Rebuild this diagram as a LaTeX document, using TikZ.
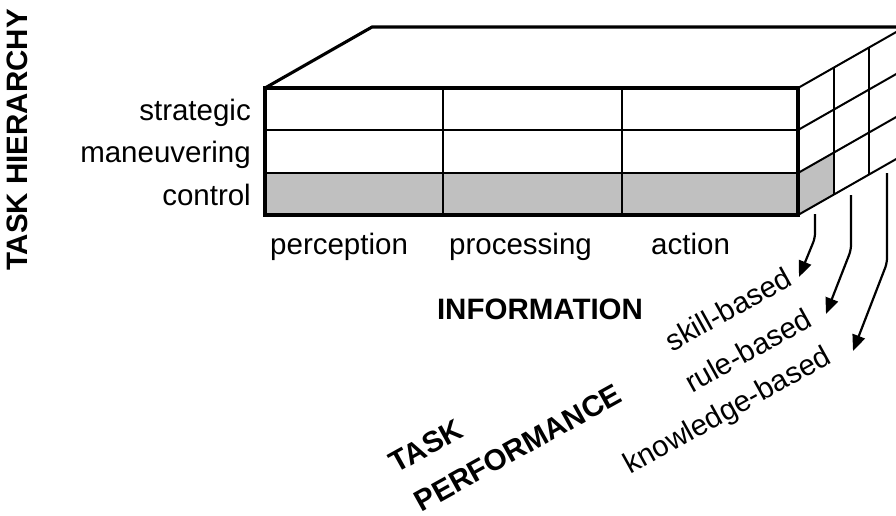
\documentclass[tikz,border=0pt]{standalone}
\usepackage{fontspec}
\setmainfont{Liberation Sans}
\usetikzlibrary{arrows.meta}
\definecolor{cellgray}{RGB}{192,192,192}
\begin{document}
\begin{tikzpicture}[x=1pt,y=-1pt,
  lbl/.style={font=\fontsize{29.5}{32}\selectfont, inner sep=0pt},
  blbl/.style={font=\fontsize{29.5}{32}\selectfont\bfseries, inner sep=0pt},
  outer/.style={line width=3.1pt, line join=miter},
  rowline/.style={line width=2.8pt},
  colline/.style={line width=2.0pt},
  sideline/.style={line width=2.0pt},
  levelarrow/.style={line width=2.2pt, rounded corners=5pt, -{Triangle[length=16pt,width=13pt]}}
]
\useasboundingbox (0,0) rectangle (896,515);
\begin{scope}
\clip (0,0) rectangle (896,515);
% named corners
\coordinate (ftl) at (265,88);
\coordinate (ftr) at (798,88);
\coordinate (fbl) at (265,215);
\coordinate (fbr) at (798,215);
\coordinate (btl) at (372,27);
\coordinate (btr) at (905,27);
\coordinate (bbr) at (905,154);
% grey cells
\fill[cellgray] (265,173) rectangle (798,215);
\fill[cellgray] (798,173) -- (833.67,152.67) -- (833.67,194.67) -- (798,215) -- cycle;
% front face grid
\draw[colline] (443,88) -- (443,215);
\draw[colline] (622,88) -- (622,215);
\draw[rowline] (265,130) -- (798,130);
\draw[rowline] (265,173) -- (798,173);
% side face grid
\draw[sideline] (798,130) -- (905,69);
\draw[sideline] (798,173) -- (905,112);
\draw[sideline] (833.67,67.67) -- (833.67,194.67);
\draw[sideline] (869.33,47.33) -- (869.33,174.33);
\draw[sideline] (fbr) -- (bbr);
% outlines
\draw[outer] (ftl) rectangle (fbr);
\draw[outer] (ftl) -- (btl) -- (btr);
\draw[sideline] (ftr) -- (btr);
% arrows
\coordinate (s1) at (815,214);
\coordinate (k1) at (815,238);
\coordinate (e1) at (799,277);
\coordinate (s2) at (851,195);
\coordinate (k2) at (851,250);
\coordinate (e2) at (826,314);
\coordinate (s3) at (887,173);
\coordinate (k3) at (887,263);
\coordinate (e3) at (853,351);
\draw[levelarrow] (s1) -- (k1) -- (e1);
\draw[levelarrow] (s2) -- (k2) -- (e2);
\draw[levelarrow] (s3) -- (k3) -- (e3);
\end{scope}
% row labels
\node[lbl, anchor=base east] (strat) at (251,120) {strategic};
\node[lbl, anchor=base east] (man) at (251,162.5) {maneuvering};
\node[lbl, anchor=base east] (ctrl) at (251,205) {control};
% column labels
\node[lbl, anchor=base west] (perc) at (270,254) {perception};
\node[lbl, anchor=base west] (proc) at (449,254) {processing};
\node[lbl, anchor=base west] (act) at (651,254) {action};
% axis titles
\node[blbl, rotate=90] (th) at (17,140) {TASK HIERARCHY};
\node[blbl, anchor=base] (info) at (540,319) {INFORMATION};
\node[blbl, rotate=29] (task) at (426,446) {TASK};
\node[blbl, rotate=29] (perf) at (518,448) {PERFORMANCE};
% performance levels
\node[lbl, rotate=29] (skill) at (728,309) {skill-based};
\node[lbl, rotate=29] (rule) at (748,350) {rule-based};
\node[lbl, rotate=29] (know) at (728,412) {knowledge-based};
\end{tikzpicture}
\end{document}
